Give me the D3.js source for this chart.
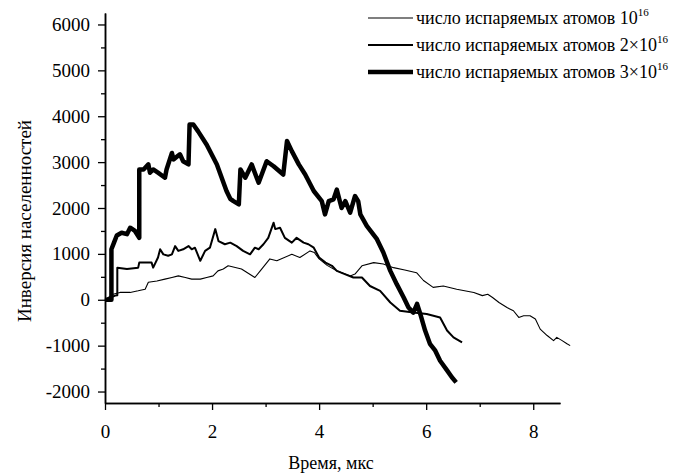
<!DOCTYPE html>
<html>
<head>
<meta charset="utf-8">
<script src="https://cdn.jsdelivr.net/npm/d3@7"></script>
<style>
    body { margin: 0; background: #fff; }
</style>
</head>
<body>
<svg></svg>
<script>
// Data: [time (us), population inversion]
let thinData = [
    [0, 0], [0.15, 120], [0.28, 160], [0.47, 160], [0.62, 195], [0.75, 230], [0.81, 380], [0.97, 410],
    [1.12, 450], [1.25, 485], [1.37, 520], [1.5, 485], [1.62, 450], [1.78, 450], [1.9, 485], [2.02, 520],
    [2.11, 630], [2.21, 670], [2.3, 740], [2.55, 670], [2.8, 485], [2.9, 630], [3.08, 890], [3.21, 850],
    [3.49, 990], [3.64, 920], [3.83, 1065], [3.91, 1030], [4.0, 890], [4.15, 750], [4.33, 630], [4.58, 520],
    [4.67, 560], [4.8, 740], [5.02, 810], [5.2, 780], [5.39, 700], [5.6, 650], [5.82, 590], [5.95, 420],
    [6.13, 270], [6.32, 300], [6.57, 230], [6.89, 160], [7.05, 90], [7.15, 120], [7.24, 50], [7.36, -60],
    [7.51, -170], [7.63, -240], [7.73, -385], [7.82, -350], [7.94, -350], [8.04, -420], [8.13, -640],
    [8.26, -780], [8.38, -890], [8.44, -820], [8.54, -890], [8.63, -960], [8.69, -1000]
];

let mediumData = [
    [0, 0], [0.19, 90], [0.23, 100], [0.23, 700], [0.41, 670], [0.62, 700], [0.64, 810], [0.87, 810],
    [0.9, 700], [0.99, 920], [1.03, 1100], [1.09, 990], [1.18, 960], [1.25, 990], [1.31, 1170], [1.37, 1065],
    [1.46, 1100], [1.56, 1170], [1.62, 1100], [1.68, 1135], [1.78, 850], [1.87, 1065], [1.96, 1135],
    [2.06, 1540], [2.12, 1280], [2.24, 1210], [2.34, 1245], [2.46, 1170], [2.58, 1065], [2.71, 990],
    [2.8, 1135], [2.87, 1100], [2.96, 1210], [3.05, 1350], [3.15, 1680], [3.18, 1540], [3.27, 1570],
    [3.36, 1350], [3.49, 1245], [3.58, 1350], [3.71, 1245], [3.8, 1210], [3.9, 1135], [4.0, 920],
    [4.12, 810], [4.24, 740], [4.33, 630], [4.48, 560], [4.64, 485], [4.8, 485], [4.95, 300], [5.14, 195],
    [5.33, -60], [5.51, -240], [5.76, -280], [6.01, -310], [6.26, -385], [6.39, -670], [6.51, -820], [6.67, -930]
];

let thickData = [
    [0, 0], [0.12, 0], [0.12, 1100], [0.17, 1250], [0.22, 1400], [0.31, 1460], [0.41, 1430], [0.47, 1570],
    [0.56, 1500], [0.64, 1350], [0.64, 2840], [0.72, 2840], [0.81, 2950], [0.84, 2770], [0.9, 2840],
    [0.99, 2770], [1.12, 2660], [1.15, 2840], [1.25, 3200], [1.28, 3060], [1.4, 3170], [1.46, 3020],
    [1.56, 2950], [1.58, 3820], [1.65, 3820], [1.74, 3670], [1.9, 3380], [2.09, 2950], [2.27, 2370],
    [2.34, 2200], [2.4, 2150], [2.5, 2080], [2.53, 2840], [2.62, 2660], [2.74, 2950], [2.87, 2550],
    [3.02, 3020], [3.15, 2910], [3.33, 2730], [3.4, 3460], [3.49, 3240], [3.62, 2950], [3.74, 2730],
    [3.9, 2370], [4.05, 2150], [4.11, 1860], [4.18, 2150], [4.27, 2190], [4.33, 2400], [4.42, 2000],
    [4.49, 2150], [4.58, 1900], [4.67, 2260], [4.73, 2150], [4.77, 1860], [4.89, 1610], [5.08, 1320],
    [5.2, 1030], [5.33, 630], [5.45, 340], [5.58, 50], [5.67, -170], [5.76, -280], [5.83, -90], [5.89, -310],
    [5.98, -670], [6.07, -960], [6.17, -1110], [6.26, -1330], [6.39, -1540], [6.48, -1690], [6.56, -1800]
];

// Legend labels (coefficient before 10^16)
let legendPrefix = ['', '2\u00D7', '3\u00D7'];
let legendWidths = [1.1, 2, 4.5];

// Tick values
let xMajorTicks = [0, 2, 4, 6, 8];
let xMinorTicks = [1, 3, 5, 7];
let yMajorTicks = [-2000, -1000, 0, 1000, 2000, 3000, 4000, 5000, 6000];
let yMinorTicks = [-1500, -500, 500, 1500, 2500, 3500, 4500, 5500];

let serifFont = '"Liberation Serif", "Times New Roman", Tinos, "DejaVu Serif", "Noto Serif", Times, serif';

// SVG Dimensions
let width = 698, height = 474;
let svg = d3.select('svg').attr('width', width).attr('height', height)
    .style('font-family', serifFont);

let xScale = d3.scaleLinear().domain([0, 8.5]).range([105, 560]);
let yScale = d3.scaleLinear().domain([-2250, 6250]).range([403, 13]);

// Axes
function drawAxes() {
    let xAxis = svg.append('g').attr('transform', 'translate(0,403)');
    xAxis.call(d3.axisBottom(xScale).tickValues(xMajorTicks).tickSize(7).tickSizeOuter(0).tickFormat((d) => String(d)));
    svg.append('g').attr('transform', 'translate(0,403)')
        .call(d3.axisBottom(xScale).tickValues(xMinorTicks).tickSize(4).tickSizeOuter(0).tickFormat(''));

    let yAxis = svg.append('g').attr('transform', 'translate(105,0)');
    yAxis.call(d3.axisLeft(yScale).tickValues(yMajorTicks).tickSize(7).tickSizeOuter(0).tickFormat((d) => String(d)));
    svg.append('g').attr('transform', 'translate(105,0)')
        .call(d3.axisLeft(yScale).tickValues(yMinorTicks).tickSize(4).tickSizeOuter(0).tickFormat(''));

    svg.selectAll('g').attr('font-family', null).attr('font-size', null);
    svg.selectAll('.domain').attr('stroke-width', 1.5);
    svg.selectAll('.tick line').attr('stroke-width', 1.3);
    svg.selectAll('.tick text').style('font-size', '19px').style('font-family', serifFont);
    xAxis.selectAll('.tick text').attr('dy', '1.3em');
    yAxis.selectAll('.tick text').attr('x', -15);

    svg.append('text')
        .attr('x', 331).attr('y', 469)
        .attr('text-anchor', 'middle')
        .style('font-size', '18px')
        .text('Время, мкс');

    svg.append('text')
        .attr('transform', 'translate(31,221) rotate(-90)')
        .attr('text-anchor', 'middle')
        .style('font-size', '19px')
        .text('Инверсия населенностей');
}

// Lines
function drawLines() {
    let line = d3.line()
        .x((d) => xScale(d[0]))
        .y((d) => yScale(d[1]));

    let series = [thinData, mediumData, thickData];
    series.forEach((data, i) => {
        svg.append('path')
            .datum(data)
            .attr('d', line)
            .attr('fill', 'none')
            .attr('stroke', '#000')
            .attr('stroke-width', legendWidths[i])
            .attr('stroke-linejoin', 'round');
    });
}

// Legend
function drawLegend() {
    legendPrefix.forEach((prefix, i) => {
        let y = 18 + i * 27;
        svg.append('line')
            .attr('x1', 368).attr('x2', 413)
            .attr('y1', y).attr('y2', y)
            .attr('stroke', '#000')
            .attr('stroke-width', legendWidths[i]);

        let text = svg.append('text')
            .attr('x', 416).attr('y', y + 6)
            .style('font-size', '18px');
        text.append('tspan').text('число испаряемых атомов ' + prefix + '10');
        text.append('tspan').attr('dy', -8).style('font-size', '11px').text('16');
    });
}

drawAxes();
drawLines();
drawLegend();
</script>
</body>
</html>
